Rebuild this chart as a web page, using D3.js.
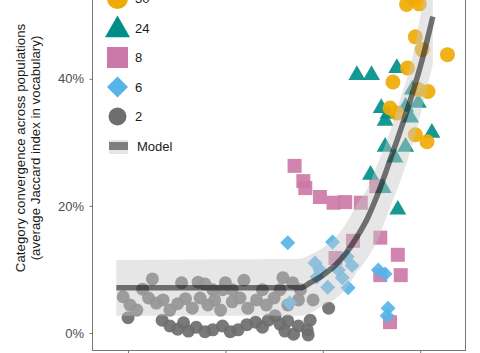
<!DOCTYPE html>
<html>
<head>
<meta charset="utf-8">
<script src="https://cdn.jsdelivr.net/npm/d3@7"></script>
<style>
  body { margin: 0; background: #fff; }
  svg { display: block; font-family: 'Liberation Sans', Arial, Helvetica, sans-serif; }
</style>
</head>
<body>
<div id="chart"></div>
<script>
// x: predictor (tick labels are cut off in the source), y: convergence in %
const xTicks = [0, 1, 2, 3]
const yTicks = [0, 20, 40]

const pts2 = [
  [0.25, 8.5], [0.55, 7.9], [0.72, 8.0], [0.79, 7.7], [1.00, 7.9], [1.19, 8.3], [1.59, 8.7], [1.69, 7.9],
  [0.15, 6.9], [0.87, 6.8], [0.97, 6.8], [1.07, 6.8], [1.38, 6.8], [1.56, 6.8], [1.77, 6.8],
  [-0.05, 5.7], [0.02, 4.4], [0.09, 3.6], [0.21, 5.5], [0.29, 4.7], [0.36, 5.2], [0.43, 3.6], [0.51, 4.6],
  [0.59, 5.4], [0.66, 3.9], [0.74, 5.5], [0.82, 4.4], [0.89, 5.2], [0.95, 3.6], [1.07, 4.9], [1.15, 5.5],
  [1.23, 3.9], [1.32, 5.2], [1.42, 4.4], [1.50, 5.5], [1.64, 4.4], [1.75, 5.2], [1.90, 5.2],
  [0.00, 2.4], [0.35, 2.0], [0.43, 1.1], [0.51, 0.6], [0.62, 0.3], [0.70, 0.9], [0.79, 0.2], [0.87, 0.5],
  [0.97, 1.1], [1.05, 0.2], [1.13, 0.5], [1.22, 1.3], [1.31, 1.7], [1.38, 0.9], [1.51, 2.7], [1.56, 1.4],
  [1.64, 1.9], [1.70, -0.2], [1.75, 1.1], [1.84, 0.5], [1.85, -0.3], [1.61, 0.3], [2.06, 3.9], [1.87, 2.0],
  [0.57, 1.6], [1.44, 2.0]
]
const pts6 = [
  [1.64, 14.2], [2.10, 14.3], [1.92, 11.0], [1.97, 9.9], [1.94, 8.8], [2.05, 7.2], [2.16, 9.9], [2.20, 8.7],
  [2.25, 12.0], [2.30, 10.6], [2.26, 7.1], [2.57, 9.9], [2.64, 9.3], [2.67, 3.9], [2.66, 2.7], [1.66, 4.7]
]
const pts8 = [
  [1.71, 26.3], [1.80, 23.9], [1.82, 22.8], [1.97, 21.4], [2.11, 20.5], [2.23, 20.6], [2.39, 20.5], [2.55, 23.1],
  [2.31, 14.5], [2.13, 11.8], [2.59, 15.0], [2.77, 12.3], [2.59, 9.1], [2.80, 9.1], [2.69, 1.7]
]
const pts24 = [
  [2.35, 40.6], [2.50, 40.6], [2.76, 41.7], [2.60, 35.4], [2.67, 34.5], [2.64, 33.4], [2.85, 35.6], [2.98, 36.2],
  [2.90, 33.9], [2.92, 38.3], [3.12, 31.5], [2.64, 29.3], [2.85, 29.3], [2.74, 27.6], [2.49, 24.9], [2.62, 22.8],
  [2.77, 19.4]
]
const pts30 = [
  [2.86, 51.7], [2.93, 52.6], [2.99, 51.8], [2.95, 46.6], [3.02, 44.6], [3.28, 43.8], [2.87, 41.7], [2.72, 39.5],
  [2.98, 38.3], [3.08, 38.0], [2.69, 35.4], [2.76, 34.6], [2.95, 31.2], [3.07, 30.1]
]

// model fit: x, estimate, lower, upper
const modelX = [-0.12, 1.77, 1.87, 2.00, 2.13, 2.25, 2.35, 2.46, 2.56, 2.69, 2.80, 2.91, 3.02, 3.13]
const modelY = [7.1, 7.1, 7.9, 9.1, 10.7, 12.8, 15.1, 18.1, 21.7, 27.2, 32.0, 37.2, 43.0, 49.8]
const modelLo = [2.7, 2.7, 3.1, 4.3, 5.4, 7.2, 9.6, 11.8, 14.5, 19.7, 24.1, 29.1, 35.4, 42.4]
const modelHi = [11.5, 11.7, 12.3, 13.4, 15.0, 17.5, 20.2, 22.8, 26.5, 31.7, 37.0, 42.7, 51.2, 57.4]

const legendLabels = ['30', '24', '8', '6', '2', 'Model']

const W = 480, H = 353
const panel = { left: 92, right: 465, top: -54, bottom: 350 }

const svg = d3.select('#chart').append('svg').attr('width', W).attr('height', H)

const x = d3.scaleLinear().domain([-0.37, 3.46]).range([panel.left, panel.right])
const y = d3.scaleLinear().domain([-2.68, 60.9]).range([panel.bottom, panel.top])

const series = [
  { key: '2', data: pts2, shape: 'circle', color: '#6e6e6e', size: Math.PI * 6.5 * 6.5, lsize: Math.PI * 9 * 9 },
  { key: '8', data: pts8, shape: 'square', color: '#cc79a7', size: 196, lsize: 441 },
  { key: '6', data: pts6, shape: 'diamond', color: '#56b4e9', size: 112, lsize: 220 },
  { key: '24', data: pts24, shape: 'triangle', color: '#008f88', size: 125, lsize: 270 },
  { key: '30', data: pts30, shape: 'circle', color: '#f0aa05', size: Math.PI * 7.5 * 7.5, lsize: Math.PI * 10.5 * 10.5 }
]

const symbolType = { circle: d3.symbolCircle, square: d3.symbolSquare, diamond: d3.symbolSquare, triangle: d3.symbolTriangle }
const symbolPath = (shape, size) => d3.symbol().type(symbolType[shape]).size(size)()
const rot = s => (s.shape === 'diamond' ? ' rotate(45)' : '')

const plot = svg.append('g')

series.forEach(s => {
  plot.append('g')
    .selectAll('path')
    .data(s.data)
    .join('path')
    .attr('d', symbolPath(s.shape, s.size))
    .attr('transform', d => `translate(${x(d[0])},${y(d[1])})${rot(s)}`)
    .attr('fill', s.color)
    .attr('fill-opacity', 0.92)
})

const model = modelX.map((mx, i) => ({ x: mx, y: modelY[i], lo: modelLo[i], hi: modelHi[i] }))

plot.append('path')
  .datum(model)
  .attr('d', d3.area().x(d => x(d.x)).y0(d => y(d.lo)).y1(d => y(d.hi)).curve(d3.curveMonotoneX))
  .attr('fill', '#c8c8c8')
  .attr('fill-opacity', 0.45)

plot.append('path')
  .datum(model)
  .attr('d', d3.line().x(d => x(d.x)).y(d => y(d.y)).curve(d3.curveMonotoneX))
  .attr('fill', 'none')
  .attr('stroke', '#000')
  .attr('stroke-opacity', 0.52)
  .attr('stroke-width', 5.5)

// panel frame + axes
svg.append('rect')
  .attr('x', panel.left + 0.5).attr('y', panel.top)
  .attr('width', panel.right - panel.left).attr('height', panel.bottom - panel.top + 0.5)
  .attr('fill', 'none').attr('stroke', '#777').attr('stroke-width', 1)

const yAxis = svg.append('g')
  .attr('transform', `translate(${panel.left + 0.5},0)`)
  .call(d3.axisLeft(y).tickValues(yTicks).tickFormat(d => `${d}%`).tickSize(3).tickPadding(5.5))
yAxis.select('.domain').remove()
yAxis.selectAll('line').attr('stroke', '#777')
yAxis.selectAll('text').attr('font-size', 13).attr('fill', '#4d4d4d').attr('font-family', null)

const xAxis = svg.append('g')
  .attr('transform', `translate(0,${panel.bottom + 0.5})`)
  .call(d3.axisBottom(x).tickValues(xTicks).tickFormat('').tickSize(3))
xAxis.select('.domain').remove()
xAxis.selectAll('line').attr('stroke', '#777')

const title = svg.append('text')
  .attr('transform', `translate(0,148) rotate(-90)`)
  .attr('text-anchor', 'middle')
  .attr('font-size', 13.3)
  .attr('fill', '#1a1a1a')
title.append('tspan').attr('x', 0).attr('y', 25).text('Category convergence across populations')
title.append('tspan').attr('x', 0).attr('y', 40).text('(average Jaccard index in vocabulary)')

// legend
const legendY = d3.scalePoint().domain(legendLabels).range([-1.5, 146])
const legend = svg.append('g')
const legX = 117.5

legendLabels.forEach(lab => {
  const g = legend.append('g').attr('transform', `translate(0,${legendY(lab)})`)
  const s = series.find(d => d.key === lab)
  if (s) {
    const dy = s.shape === 'triangle' ? 2 : 0
    g.append('path')
      .attr('d', symbolPath(s.shape, s.lsize))
      .attr('transform', `translate(${legX},${dy})${rot(s)}`)
      .attr('fill', s.color)
  } else {
    g.append('rect').attr('x', 109).attr('y', -6).attr('width', 19).attr('height', 14)
      .attr('fill', '#c8c8c8').attr('fill-opacity', 0.45)
    g.append('rect').attr('x', 109).attr('y', -4).attr('width', 19).attr('height', 8)
      .attr('fill', '#000').attr('fill-opacity', 0.45)
  }
  g.append('text')
    .attr('x', lab === 'Model' ? 137 : 135)
    .attr('dy', '0.35em')
    .attr('font-size', 13)
    .attr('fill', '#1a1a1a')
    .text(lab)
})
</script>
</body>
</html>
